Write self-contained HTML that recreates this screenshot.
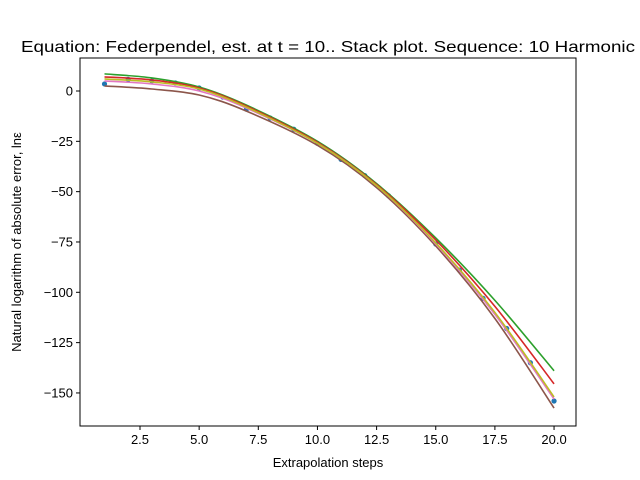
<!DOCTYPE html>
<html><head><meta charset="utf-8"><style>body{margin:0;background:#fff}svg{display:block;font-family:"Liberation Sans","DejaVu Sans",sans-serif}</style></head>
<body>
<svg id="chart" width="640" height="480" xmlns="http://www.w3.org/2000/svg">
<rect width="640" height="480" fill="#fff"/>
<text x="328" y="52" font-size="16" text-anchor="middle" textLength="614" lengthAdjust="spacingAndGlyphs">Equation: Federpendel, est. at t = 10.. Stack plot. Sequence: 10 Harmonic</text>
<text x="328" y="467" font-size="13" text-anchor="middle">Extrapolation steps</text>
<text transform="translate(21,242) rotate(-90)" font-size="13" text-anchor="middle">Natural logarithm of absolute error, lnε</text>
<g id="plot"></g>
<rect x="80" y="58" width="496" height="368" fill="none" stroke="#000" stroke-width="1"/>
</svg>
<script>
const dotX = [1,2,3,4,5,6,7,8,9,10,11,12,13,14,15,16,17,18,19,20];
const dotY = [3.5,5.8,5,4,1.5,-3,-9,-13.4,-19,-26,-34,-42,-52,-63,-76,-89,-103,-118,-135,-154];
const curveX = [1,3,5,7,10,12.5,15,17.5,20];
const greenY = [8.5,6.5,2,-7,-25,-46,-73,-104,-139];
const redY = [7,5.5,1.5,-7.5,-25.5,-46.5,-74,-107,-145.5];
const brownY = [2.5,1,-2,-10,-27,-48,-77,-113,-157.5];
const pinkY = [5,3.5,0,-8.5,-26,-47,-76,-111,-153];
const oliveY = [6,4.5,1,-8,-26,-47,-75.5,-110,-152];
const xTicks = [2.5,5,7.5,10,12.5,15,17.5,20];
const yTicks = [0,-25,-50,-75,-100,-125,-150];

const sx = v => 140 + (v - 2.5) * 23.66;
const sy = v => 91 - v * 2.013;
const NS = "http://www.w3.org/2000/svg";
const g = document.getElementById('plot');
function mk(t, a){const e=document.createElementNS(NS,t);for(const k in a)e.setAttribute(k,a[k]);g.appendChild(e);return e;}

xTicks.forEach(t=>{
  const l=mk('line',{x1:sx(t),x2:sx(t),y1:426,y2:430,stroke:'#000'});
  
  
  const tx=mk('text',{x:sx(t),y:444,'font-size':13,'text-anchor':'middle'});
  tx.textContent=t.toFixed(1);
  
  
});
yTicks.forEach(t=>{
  const l=mk('line',{x1:76,x2:80,y1:sy(t),y2:sy(t),stroke:'#000'});
  
  
  const tx=mk('text',{x:73,y:sy(t)+4.5,'font-size':13,'text-anchor':'end'});
  tx.textContent=t===0?'0':'\u2212'+Math.abs(t);
  
  
});

dotX.forEach((x,i)=>{
  const c=mk('circle',{cx:sx(x),cy:sy(dotY[i]),r:2.6,fill:'#1f77b4'});
  
  
});

function smooth(xs, ys){
  const p=xs.map((x,i)=>[sx(x),sy(ys[i])]);
  let d='M'+p[0][0]+','+p[0][1];
  for(let i=0;i<p.length-1;i++){
    const p0=p[Math.max(0,i-1)],p1=p[i],p2=p[i+1],p3=p[Math.min(p.length-1,i+2)];
    const c1=[p1[0]+(p2[0]-p0[0])/6,p1[1]+(p2[1]-p0[1])/6];
    const c2=[p2[0]-(p3[0]-p1[0])/6,p2[1]-(p3[1]-p1[1])/6];
    d+=' C'+c1+' '+c2+' '+p2;
  }
  return d;
}
[['fit-green',greenY,'#2ca02c'],['fit-red',redY,'#d62728'],['fit-brown',brownY,'#8c564b'],['fit-pink',pinkY,'#e377c2'],['fit-olive',oliveY,'#bcbd22']].forEach(s=>{
  const p=mk('path',{d:smooth(curveX,s[1]),fill:'none',stroke:s[2],'stroke-width':1.6});
  
  
});
</script>
</body></html>
